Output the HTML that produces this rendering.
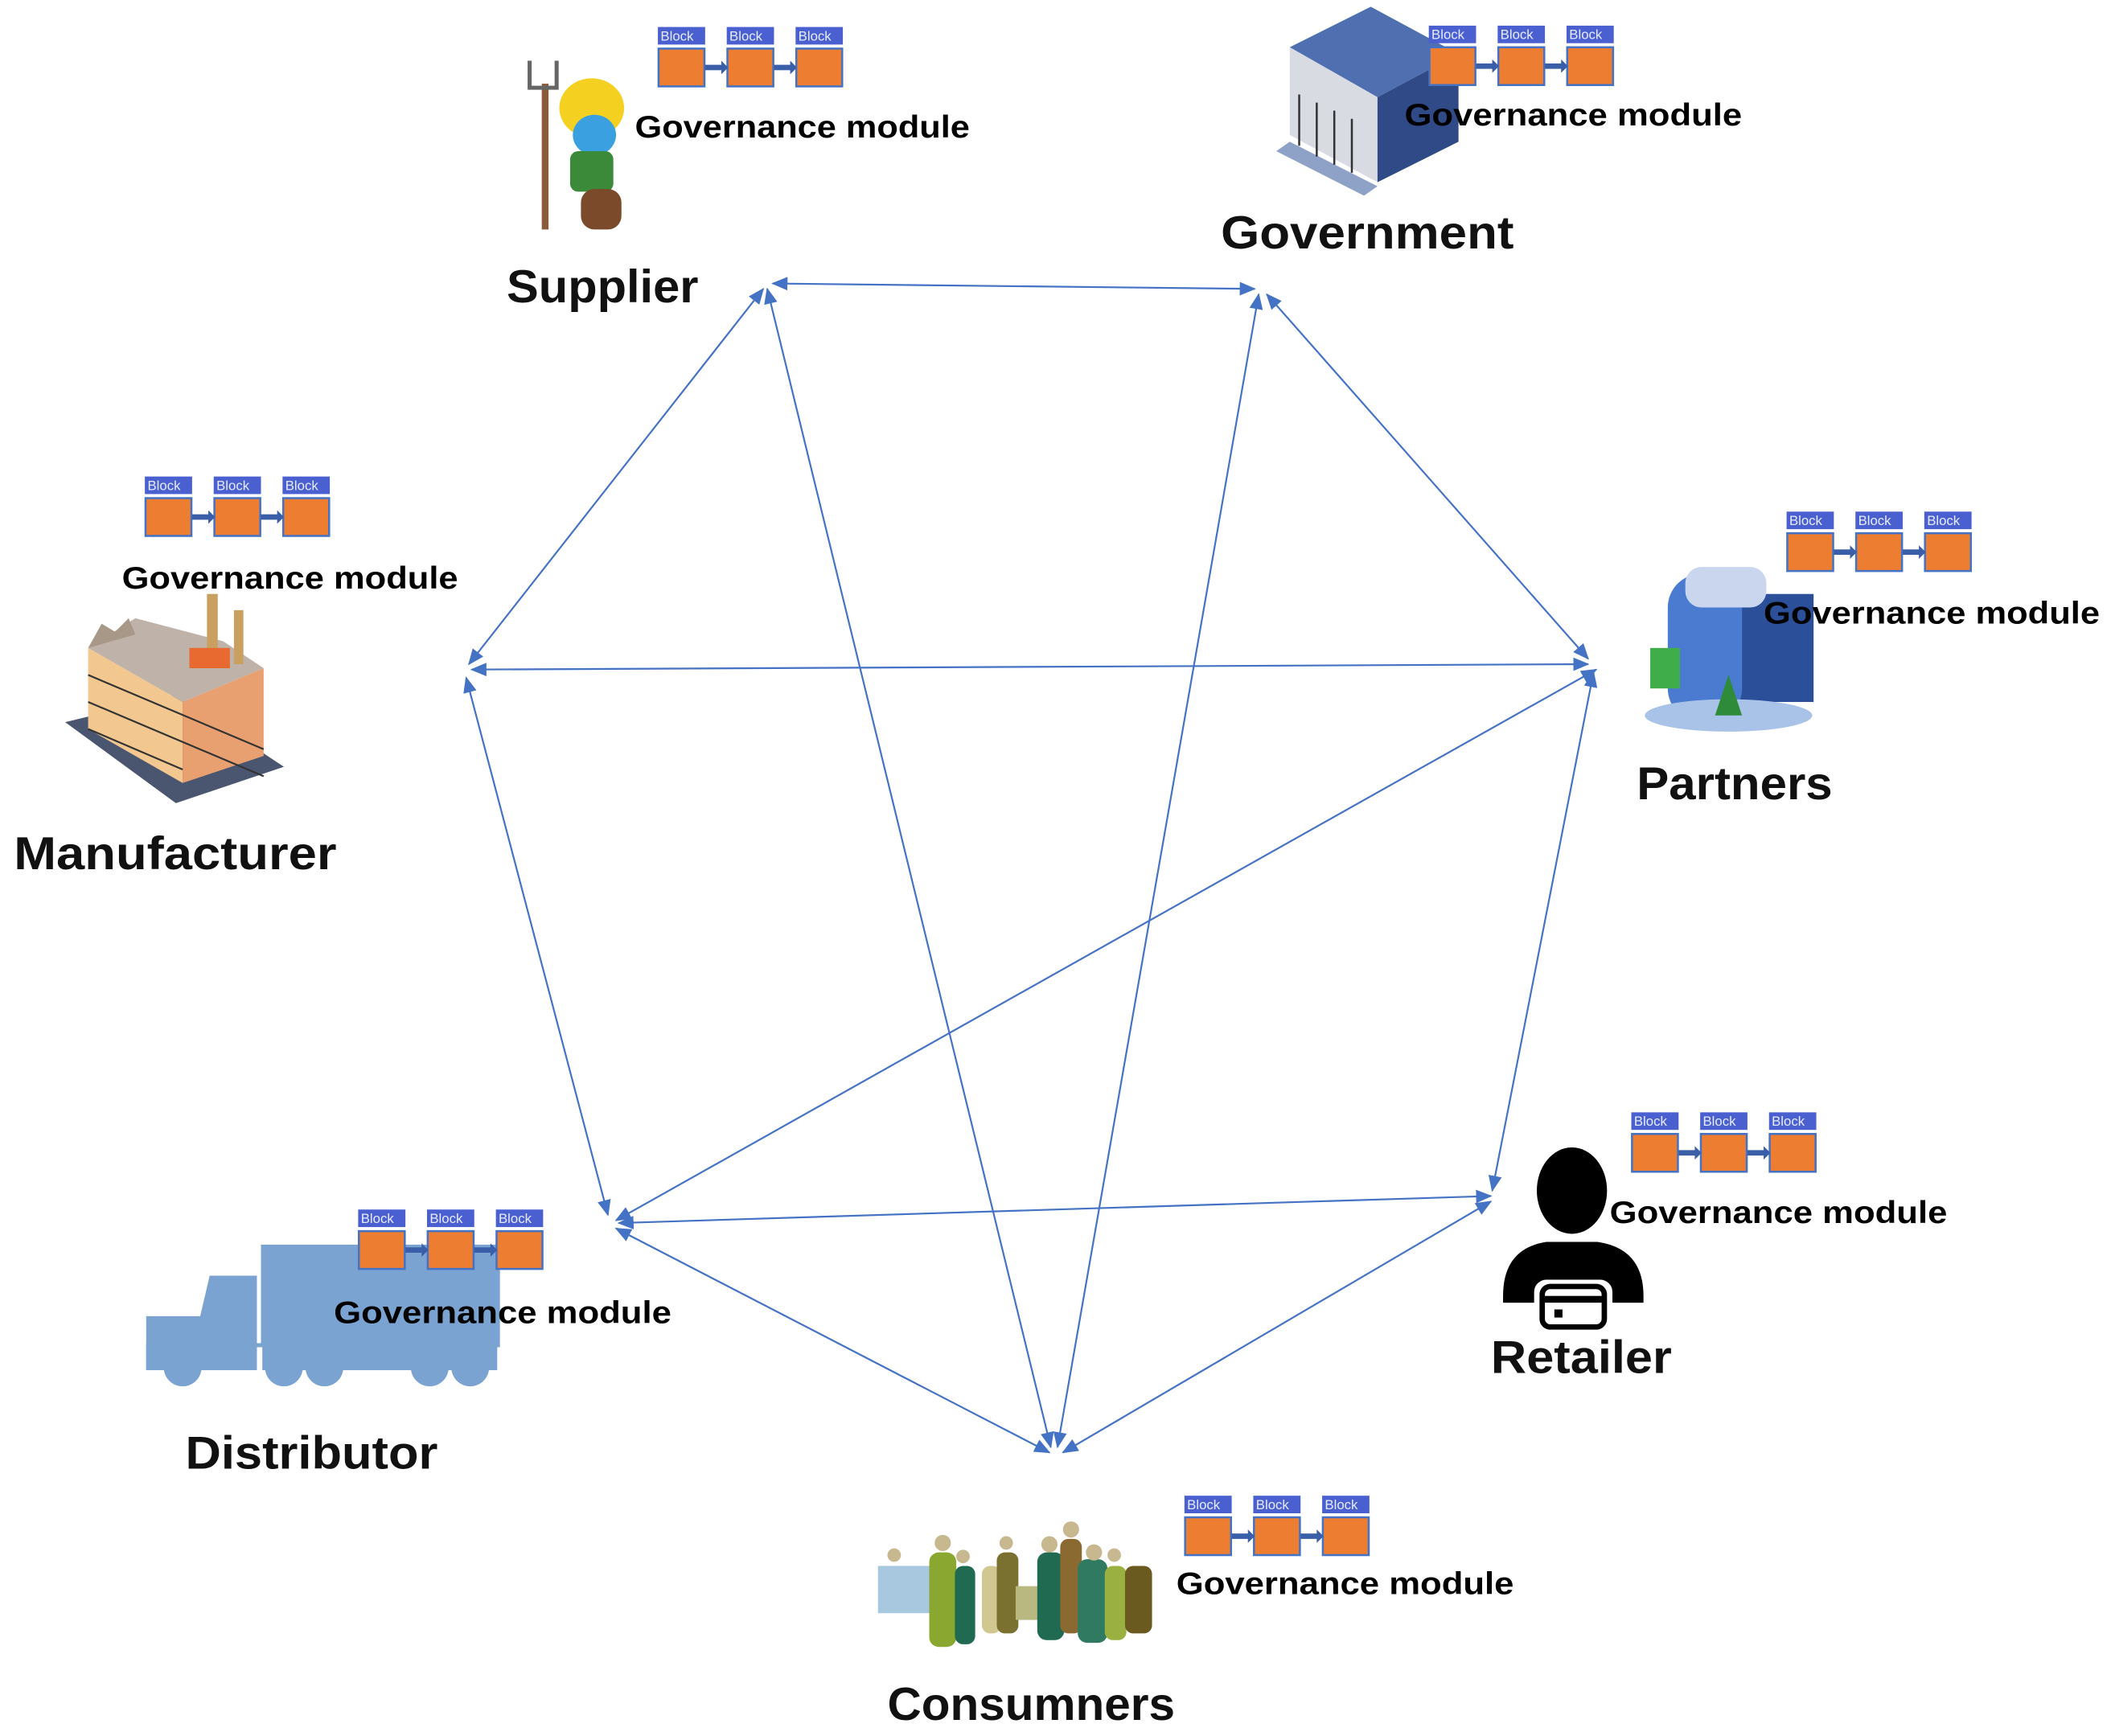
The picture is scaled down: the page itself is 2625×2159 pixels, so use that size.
<!DOCTYPE html>
<html><head><meta charset="utf-8"><style>
html,body{margin:0;padding:0;background:#fff;}
svg{display:block;}
.lbl{font-family:"Liberation Sans",sans-serif;font-weight:bold;fill:#111;}
.gm{font-family:"Liberation Sans",sans-serif;font-weight:bold;font-size:23px;fill:#000;}
.bt{font-family:"Liberation Sans",sans-serif;font-size:10px;fill:#e8ecff;}
</style></head><body>
<svg width="2625" height="2159" viewBox="0 0 1563 1286" xmlns="http://www.w3.org/2000/svg">
<defs>
<marker id="a" markerWidth="12" markerHeight="10" refX="11" refY="5" orient="auto-start-reverse" markerUnits="userSpaceOnUse">
<path d="M0,0 L12,5 L0,10 Z" fill="#4472C4"/></marker>
</defs>
<rect width="1563" height="1286" fill="#fff"/>

<g stroke="#4472C4" stroke-width="1.3" fill="none" marker-start="url(#a)" marker-end="url(#a)">
<line x1="572" y1="210" x2="929" y2="214"/>
<line x1="565" y1="214" x2="347" y2="492"/>
<line x1="568" y1="214" x2="778" y2="1072"/>
<line x1="938" y1="218" x2="1176" y2="488"/>
<line x1="932" y1="218" x2="783" y2="1072"/>
<line x1="349" y1="496" x2="1176" y2="492"/>
<line x1="345" y1="502" x2="450" y2="900"/>
<line x1="1182" y1="496" x2="456" y2="904"/>
<line x1="1180" y1="498" x2="1105" y2="882"/>
<line x1="458" y1="906" x2="1104" y2="886"/>
<line x1="456" y1="910" x2="777" y2="1076"/>
<line x1="1104" y1="890" x2="787" y2="1076"/>
</g>

<!-- Government building -->
<g>
<polygon points="955,35 1015,5 1080,40 1020,72" fill="#4f6fb0"/>
<polygon points="955,35 1020,72 1020,135 955,100" fill="#d8dbe2"/>
<polygon points="1020,72 1080,40 1080,105 1020,135" fill="#2f4a86"/>
<polygon points="945,112 1010,145 1020,138 955,105" fill="#8ea2c8"/>
<g stroke="#333" stroke-width="1.5"><line x1="962" y1="70" x2="962" y2="108"/><line x1="975" y1="76" x2="975" y2="116"/><line x1="988" y1="82" x2="988" y2="122"/><line x1="1001" y1="88" x2="1001" y2="128"/></g>
</g>

<!-- Partners building -->
<g>
<rect x="1268" y="440" width="75" height="80" fill="#2c4f9a"/>
<rect x="1235" y="425" width="55" height="110" rx="25" fill="#4a7bd0"/>
<rect x="1248" y="420" width="60" height="30" rx="12" fill="#c9d6ee"/>
<ellipse cx="1280" cy="530" rx="62" ry="12" fill="#a9c3e8"/>
<polygon points="1280,500 1290,530 1270,530" fill="#2e8b3a"/>
<rect x="1222" y="480" width="22" height="30" fill="#3fae4a"/>
</g>

<!-- Factory -->
<g>
<polygon points="48,535 130,595 210,568 130,515" fill="#4a5670"/>
<polygon points="65,480 135,520 135,580 65,540" fill="#f2c890"/>
<polygon points="135,520 195,495 195,560 135,580" fill="#e8a070"/>
<polygon points="65,480 100,458 165,475 195,495 135,520" fill="#bfb2a8"/>
<polygon points="65,480 75,462 85,468 95,458 100,470" fill="#a89888"/>
<rect x="153" y="440" width="8" height="50" fill="#c9a060"/>
<rect x="173" y="452" width="7" height="40" fill="#c9a060"/>
<rect x="140" y="480" width="30" height="15" fill="#e86a30"/>
<g stroke="#333" stroke-width="1.3"><line x1="65" y1="500" x2="195" y2="555"/><line x1="65" y1="520" x2="195" y2="575"/><line x1="65" y1="540" x2="135" y2="570"/></g>
</g>

<!-- Supplier smurf -->
<g>
<rect x="401" y="62" width="5" height="108" fill="#8a5a3a"/>
<path d="M392,45 L392,65 L412,65 L412,45" stroke="#666" stroke-width="3" fill="none"/>
<ellipse cx="438" cy="80" rx="24" ry="22" fill="#f4d020"/>
<ellipse cx="440" cy="100" rx="16" ry="15" fill="#3aa0e0"/>
<rect x="422" y="112" width="32" height="30" rx="6" fill="#3a8a3a"/>
<rect x="430" y="140" width="30" height="30" rx="10" fill="#7a4a2a"/>
</g>

<!-- Truck -->
<g fill="#7ba3d2">
<rect x="193" y="922" width="177" height="76"/>
<path d="M108,975 L148,975 L155,945 L190,945 L190,1015 L108,1015 Z"/>
<rect x="108" y="995" width="260" height="20"/>
<circle cx="135" cy="1013" r="14"/><circle cx="210" cy="1013" r="14"/><circle cx="240" cy="1013" r="14"/>
<circle cx="318" cy="1013" r="14"/><circle cx="348" cy="1013" r="14"/>
</g>
<g fill="#fff"><rect x="190" y="998" width="4" height="20"/></g>

<!-- Retailer person -->
<g>
<ellipse cx="1164" cy="882" rx="26" ry="32" fill="#000"/>
<path d="M1113,960 Q1113,925 1145,920 L1183,920 Q1217,925 1217,960 L1217,965 L1113,965 Z" fill="#000"/>
<rect x="1136" y="948" width="58" height="40" rx="9" fill="#fff"/>
<rect x="1142" y="953" width="46" height="30" rx="6" fill="none" stroke="#000" stroke-width="4"/>
<rect x="1142" y="960" width="46" height="5" fill="#000"/>
<rect x="1151" y="970" width="6" height="6" fill="#000"/>
</g>

<!-- Consumers crowd -->
<g>
<rect x="650" y="1160" width="40" height="35" fill="#a8c8e0"/>
<rect x="688" y="1150" width="20" height="70" rx="7" fill="#8aa830"/>
<rect x="707" y="1160" width="15" height="58" rx="6" fill="#1f6a50"/>
<rect x="727" y="1160" width="14" height="50" rx="6" fill="#d0c890"/>
<rect x="738" y="1150" width="16" height="60" rx="6" fill="#7a7030"/>
<rect x="752" y="1175" width="30" height="25" fill="#b8b880"/>
<rect x="768" y="1150" width="20" height="65" rx="7" fill="#1f6a50"/>
<rect x="785" y="1140" width="16" height="70" rx="6" fill="#8a6a30"/>
<rect x="798" y="1155" width="22" height="62" rx="7" fill="#2f7a60"/>
<rect x="818" y="1160" width="16" height="55" rx="6" fill="#9ab040"/>
<rect x="833" y="1160" width="20" height="50" rx="6" fill="#6a5a20"/>
<g fill="#c8b890"><circle cx="698" cy="1143" r="6"/><circle cx="713" cy="1153" r="5"/><circle cx="745" cy="1143" r="5"/><circle cx="777" cy="1144" r="6"/><circle cx="793" cy="1133" r="6"/><circle cx="810" cy="1150" r="6"/><circle cx="825" cy="1152" r="5"/><circle cx="662" cy="1152" r="5"/></g>
</g>

<!-- Block chains -->
<g transform="translate(487,20)">
<rect x="0" y="0" width="35" height="13" fill="#4a5fd0"/><text class="bt" x="2" y="10">Block</text>
<rect x="0.5" y="16" width="34" height="28" fill="#ED7D31" stroke="#4472C4" stroke-width="1.5"/>
<rect x="51" y="0" width="35" height="13" fill="#4a5fd0"/><text class="bt" x="53" y="10">Block</text>
<rect x="51.5" y="16" width="34" height="28" fill="#ED7D31" stroke="#4472C4" stroke-width="1.5"/>
<rect x="102" y="0" width="35" height="13" fill="#4a5fd0"/><text class="bt" x="104" y="10">Block</text>
<rect x="102.5" y="16" width="34" height="28" fill="#ED7D31" stroke="#4472C4" stroke-width="1.5"/>
<rect x="35" y="28" width="13" height="4" fill="#3a5ea8"/><polygon points="47,25 52,30 47,35" fill="#3a5ea8"/>
<rect x="86" y="28" width="13" height="4" fill="#3a5ea8"/><polygon points="98,25 103,30 98,35" fill="#3a5ea8"/>
</g>
<g transform="translate(1058,19)">
<rect x="0" y="0" width="35" height="13" fill="#4a5fd0"/><text class="bt" x="2" y="10">Block</text>
<rect x="0.5" y="16" width="34" height="28" fill="#ED7D31" stroke="#4472C4" stroke-width="1.5"/>
<rect x="51" y="0" width="35" height="13" fill="#4a5fd0"/><text class="bt" x="53" y="10">Block</text>
<rect x="51.5" y="16" width="34" height="28" fill="#ED7D31" stroke="#4472C4" stroke-width="1.5"/>
<rect x="102" y="0" width="35" height="13" fill="#4a5fd0"/><text class="bt" x="104" y="10">Block</text>
<rect x="102.5" y="16" width="34" height="28" fill="#ED7D31" stroke="#4472C4" stroke-width="1.5"/>
<rect x="35" y="28" width="13" height="4" fill="#3a5ea8"/><polygon points="47,25 52,30 47,35" fill="#3a5ea8"/>
<rect x="86" y="28" width="13" height="4" fill="#3a5ea8"/><polygon points="98,25 103,30 98,35" fill="#3a5ea8"/>
</g>
<g transform="translate(107,353)">
<rect x="0" y="0" width="35" height="13" fill="#4a5fd0"/><text class="bt" x="2" y="10">Block</text>
<rect x="0.5" y="16" width="34" height="28" fill="#ED7D31" stroke="#4472C4" stroke-width="1.5"/>
<rect x="51" y="0" width="35" height="13" fill="#4a5fd0"/><text class="bt" x="53" y="10">Block</text>
<rect x="51.5" y="16" width="34" height="28" fill="#ED7D31" stroke="#4472C4" stroke-width="1.5"/>
<rect x="102" y="0" width="35" height="13" fill="#4a5fd0"/><text class="bt" x="104" y="10">Block</text>
<rect x="102.5" y="16" width="34" height="28" fill="#ED7D31" stroke="#4472C4" stroke-width="1.5"/>
<rect x="35" y="28" width="13" height="4" fill="#3a5ea8"/><polygon points="47,25 52,30 47,35" fill="#3a5ea8"/>
<rect x="86" y="28" width="13" height="4" fill="#3a5ea8"/><polygon points="98,25 103,30 98,35" fill="#3a5ea8"/>
</g>
<g transform="translate(1323,379)">
<rect x="0" y="0" width="35" height="13" fill="#4a5fd0"/><text class="bt" x="2" y="10">Block</text>
<rect x="0.5" y="16" width="34" height="28" fill="#ED7D31" stroke="#4472C4" stroke-width="1.5"/>
<rect x="51" y="0" width="35" height="13" fill="#4a5fd0"/><text class="bt" x="53" y="10">Block</text>
<rect x="51.5" y="16" width="34" height="28" fill="#ED7D31" stroke="#4472C4" stroke-width="1.5"/>
<rect x="102" y="0" width="35" height="13" fill="#4a5fd0"/><text class="bt" x="104" y="10">Block</text>
<rect x="102.5" y="16" width="34" height="28" fill="#ED7D31" stroke="#4472C4" stroke-width="1.5"/>
<rect x="35" y="28" width="13" height="4" fill="#3a5ea8"/><polygon points="47,25 52,30 47,35" fill="#3a5ea8"/>
<rect x="86" y="28" width="13" height="4" fill="#3a5ea8"/><polygon points="98,25 103,30 98,35" fill="#3a5ea8"/>
</g>
<g transform="translate(1208,824)">
<rect x="0" y="0" width="35" height="13" fill="#4a5fd0"/><text class="bt" x="2" y="10">Block</text>
<rect x="0.5" y="16" width="34" height="28" fill="#ED7D31" stroke="#4472C4" stroke-width="1.5"/>
<rect x="51" y="0" width="35" height="13" fill="#4a5fd0"/><text class="bt" x="53" y="10">Block</text>
<rect x="51.5" y="16" width="34" height="28" fill="#ED7D31" stroke="#4472C4" stroke-width="1.5"/>
<rect x="102" y="0" width="35" height="13" fill="#4a5fd0"/><text class="bt" x="104" y="10">Block</text>
<rect x="102.5" y="16" width="34" height="28" fill="#ED7D31" stroke="#4472C4" stroke-width="1.5"/>
<rect x="35" y="28" width="13" height="4" fill="#3a5ea8"/><polygon points="47,25 52,30 47,35" fill="#3a5ea8"/>
<rect x="86" y="28" width="13" height="4" fill="#3a5ea8"/><polygon points="98,25 103,30 98,35" fill="#3a5ea8"/>
</g>
<g transform="translate(265,896)">
<rect x="0" y="0" width="35" height="13" fill="#4a5fd0"/><text class="bt" x="2" y="10">Block</text>
<rect x="0.5" y="16" width="34" height="28" fill="#ED7D31" stroke="#4472C4" stroke-width="1.5"/>
<rect x="51" y="0" width="35" height="13" fill="#4a5fd0"/><text class="bt" x="53" y="10">Block</text>
<rect x="51.5" y="16" width="34" height="28" fill="#ED7D31" stroke="#4472C4" stroke-width="1.5"/>
<rect x="102" y="0" width="35" height="13" fill="#4a5fd0"/><text class="bt" x="104" y="10">Block</text>
<rect x="102.5" y="16" width="34" height="28" fill="#ED7D31" stroke="#4472C4" stroke-width="1.5"/>
<rect x="35" y="28" width="13" height="4" fill="#3a5ea8"/><polygon points="47,25 52,30 47,35" fill="#3a5ea8"/>
<rect x="86" y="28" width="13" height="4" fill="#3a5ea8"/><polygon points="98,25 103,30 98,35" fill="#3a5ea8"/>
</g>
<g transform="translate(877,1108)">
<rect x="0" y="0" width="35" height="13" fill="#4a5fd0"/><text class="bt" x="2" y="10">Block</text>
<rect x="0.5" y="16" width="34" height="28" fill="#ED7D31" stroke="#4472C4" stroke-width="1.5"/>
<rect x="51" y="0" width="35" height="13" fill="#4a5fd0"/><text class="bt" x="53" y="10">Block</text>
<rect x="51.5" y="16" width="34" height="28" fill="#ED7D31" stroke="#4472C4" stroke-width="1.5"/>
<rect x="102" y="0" width="35" height="13" fill="#4a5fd0"/><text class="bt" x="104" y="10">Block</text>
<rect x="102.5" y="16" width="34" height="28" fill="#ED7D31" stroke="#4472C4" stroke-width="1.5"/>
<rect x="35" y="28" width="13" height="4" fill="#3a5ea8"/><polygon points="47,25 52,30 47,35" fill="#3a5ea8"/>
<rect x="86" y="28" width="13" height="4" fill="#3a5ea8"/><polygon points="98,25 103,30 98,35" fill="#3a5ea8"/>
</g>

<!-- Governance labels -->
<text class="gm" x="470" y="102" textLength="248" lengthAdjust="spacingAndGlyphs">Governance module</text>
<text class="gm" x="1040" y="93" textLength="250" lengthAdjust="spacingAndGlyphs">Governance module</text>
<text class="gm" x="90" y="436" textLength="249" lengthAdjust="spacingAndGlyphs">Governance module</text>
<text class="gm" x="1306" y="462" textLength="249" lengthAdjust="spacingAndGlyphs">Governance module</text>
<text class="gm" x="1192" y="906" textLength="250" lengthAdjust="spacingAndGlyphs">Governance module</text>
<text class="gm" x="247" y="980" textLength="250" lengthAdjust="spacingAndGlyphs">Governance module</text>
<text class="gm" x="871" y="1181" textLength="250" lengthAdjust="spacingAndGlyphs">Governance module</text>

<!-- Node labels -->
<text class="lbl" font-size="34" x="375" y="224" textLength="142" lengthAdjust="spacingAndGlyphs">Supplier</text>
<text class="lbl" font-size="34" x="904" y="184" textLength="217" lengthAdjust="spacingAndGlyphs">Government</text>
<text class="lbl" font-size="34" x="1212" y="592" textLength="145" lengthAdjust="spacingAndGlyphs">Partners</text>
<text class="lbl" font-size="34" x="10" y="644" textLength="239" lengthAdjust="spacingAndGlyphs">Manufacturer</text>
<text class="lbl" font-size="34" x="137" y="1088" textLength="187" lengthAdjust="spacingAndGlyphs">Distributor</text>
<text class="lbl" font-size="34" x="1104" y="1017" textLength="134" lengthAdjust="spacingAndGlyphs">Retailer</text>
<text class="lbl" font-size="34" x="657" y="1274" textLength="213" lengthAdjust="spacingAndGlyphs">Consumners</text>
</svg>
</body></html>
